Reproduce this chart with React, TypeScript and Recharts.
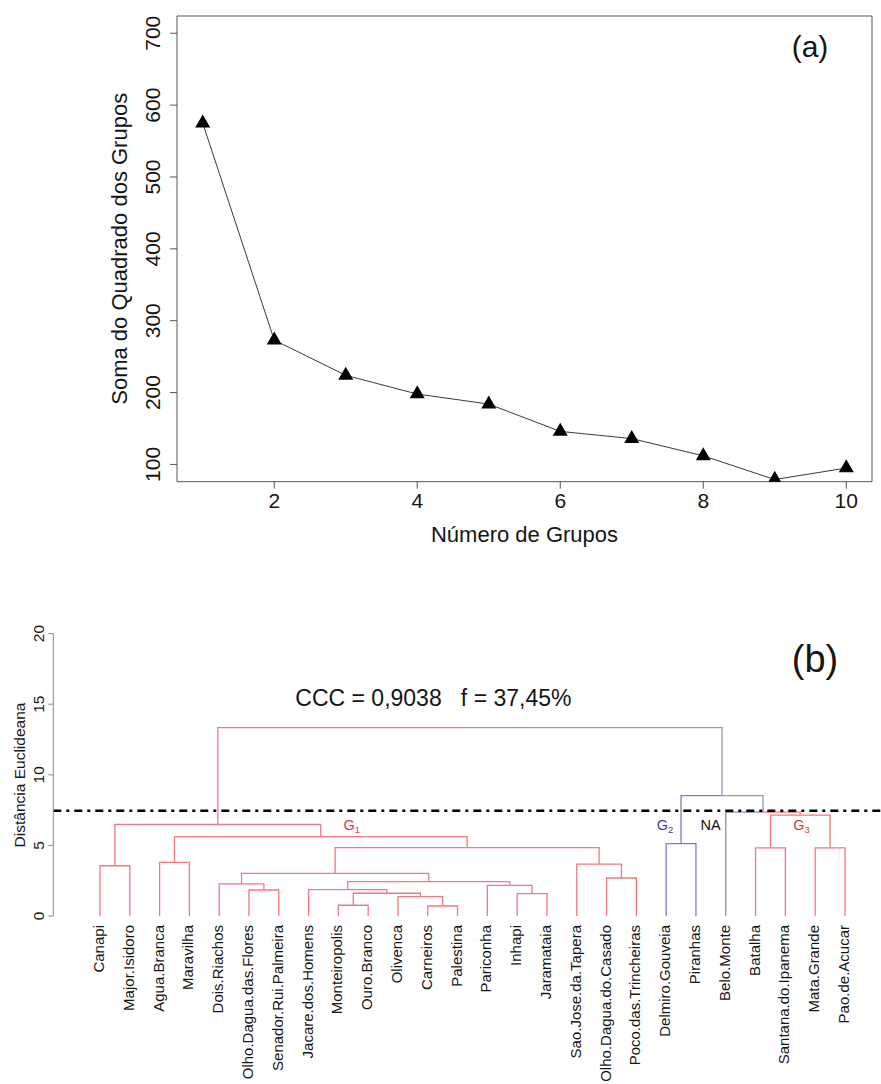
import React from 'react';
import {
  ComposedChart,
  Line,
  XAxis,
  YAxis,
  ReferenceArea,
  ReferenceLine,
  ReferenceDot,
} from 'recharts';

const FONT = '"Liberation Sans", Arial, Helvetica, sans-serif';
const INK = '#151515';

// ---------- (a) elbow plot data ----------
const groupCounts = [1, 2, 3, 4, 5, 6, 7, 8, 9, 10];
const withinSS = [575, 273, 224, 198, 184, 146, 136, 112, 79, 95];
const elbowXTicks = [2, 4, 6, 8, 10];
const elbowYTicks = [100, 200, 300, 400, 500, 600, 700];
const elbowXDomain: [number, number] = [0.64, 10.36];
const elbowYDomain: [number, number] = [76, 724];

// ---------- (b) dendrogram data ----------
const leafNames = [
  'Canapi', 'Major.Isidoro', 'Agua.Branca', 'Maravilha', 'Dois.Riachos',
  'Olho.Dagua.das.Flores', 'Senador.Rui.Palmeira', 'Jacare.dos.Homens',
  'Monteiropolis', 'Ouro.Branco', 'Olivenca', 'Carneiros', 'Palestina',
  'Pariconha', 'Inhapi', 'Jaramataia', 'Sao.Jose.da.Tapera',
  'Olho.Dagua.do.Casado', 'Poco.das.Trincheiras', 'Delmiro.Gouveia',
  'Piranhas', 'Belo.Monte', 'Batalha', 'Santana.do.Ipanema', 'Mata.Grande',
  'Pao.de.Acucar',
];
const leafGroups = [
  'G1', 'G1', 'G1', 'G1', 'G1', 'G1', 'G1', 'G1', 'G1', 'G1', 'G1', 'G1', 'G1',
  'G1', 'G1', 'G1', 'G1', 'G1', 'G1', 'G2', 'G2', 'NA', 'G3', 'G3', 'G3', 'G3',
];
// hclust-style merges: negative = leaf (1-based), positive = earlier merge row (1-based)
const mergeLeft = [-12, -9, -11, -15, 2, -6, -8, -14, -5, 7, -18, 9, -1, -17, -3, -23, -25, 12, -20, 15, 13, 16, -22, 19, 21];
const mergeRight = [-13, -10, 1, -16, 3, -7, 5, 4, 6, 8, -19, 10, -2, 11, -4, -24, -26, 14, -21, 18, 20, 17, 22, 23, 24];
const mergeHeight = [0.71, 0.76, 1.37, 1.58, 1.61, 1.84, 1.87, 2.17, 2.27, 2.44, 2.69, 3.02, 3.56, 3.68, 3.8, 4.82, 4.82, 4.84, 5.12, 5.62, 6.49, 7.15, 7.36, 8.52, 13.34];
const cutHeight = 7.45;
const dendroYTicks = [0, 5, 10, 15, 20];
const groupLabelNames = ['G1', 'G2', 'NA', 'G3'];

// ---------- styles / annotation placement ----------
const groupLineColor: Record<string, string> = {
  G1: '#f07880',
  G2: '#7c7cc6',
  G3: '#f07880',
  NA: '#8e8ea8',
  mixed: '#9696b6',
};
const groupTextColor: Record<string, string> = {
  G1: '#e3353e',
  G2: '#3d3d9c',
  G3: '#e3353e',
  NA: '#111111',
};
const groupLabelPos = [
  { x: 9.45, y: 6.12 },
  { x: 19.96, y: 6.12 },
  { x: 21.49, y: 6.12 },
  { x: 24.54, y: 6.12 },
];

const elbowData = groupCounts.map((k, i) => ({ k, wss: withinSS[i] }));

type NodeInfo = { x: number; h: number; group: string };
type Segment = { points: { x: number; h: number }[]; color: string };

function buildDendrogram(): Segment[] {
  const nodes: NodeInfo[] = [];
  const info = (ref: number): NodeInfo =>
    ref < 0 ? { x: -ref, h: 0, group: leafGroups[-ref - 1] } : nodes[ref - 1];
  const segs: Segment[] = [];
  for (let i = 0; i < mergeHeight.length; i++) {
    const l = info(mergeLeft[i]);
    const r = info(mergeRight[i]);
    const H = mergeHeight[i];
    const node: NodeInfo = {
      x: (l.x + r.x) / 2,
      h: H,
      group: l.group === r.group ? l.group : 'mixed',
    };
    nodes.push(node);
    [l, r].forEach((c) => {
      segs.push({
        points: [
          { x: c.x, h: c.h },
          { x: c.x, h: H },
          { x: node.x, h: H },
        ],
        color: groupLineColor[c.group],
      });
    });
  }
  return segs;
}
const dendroSegments = buildDendrogram();
const leafTicks = leafNames.map((_, i) => i + 1);
const dendroXDomain: [number, number] = [1 - 1.567, leafNames.length + 1.21];

// ---------- tick renderers ----------
const ElbowXTick = (p: any) => (
  <text x={p.x} y={p.y + 18.8} textAnchor="middle" fontSize={21} fontFamily={FONT} fill={INK}>
    {p.payload.value}
  </text>
);
const ElbowYTick = (p: any) => {
  const x = p.x - 9.5;
  return (
    <text x={x} y={p.y} transform={`rotate(-90 ${x} ${p.y})`} textAnchor="middle" fontSize={21} fontFamily={FONT} fill={INK}>
      {p.payload.value}
    </text>
  );
};
const LeafTick = (p: any) => {
  const x = p.x + 4;
  const y = p.y + 9;
  return (
    <text x={x} y={y} transform={`rotate(-90 ${x} ${y})`} textAnchor="end" fontSize={15} fontFamily={FONT} fill={INK}>
      {leafNames[p.payload.value - 1]}
    </text>
  );
};
const DendroYTick = (p: any) => {
  const x = p.x - 4.5;
  return (
    <text x={x} y={p.y} transform={`rotate(-90 ${x} ${p.y})`} textAnchor="middle" fontSize={15.5} fontFamily={FONT} fill={INK}>
      {p.payload.value}
    </text>
  );
};

const Triangle = (p: any) => {
  const { cx, cy } = p;
  if (cx == null || cy == null) return <g key={p.index} />;
  return (
    <polygon
      key={p.index}
      points={`${cx},${cy - 8.7} ${cx + 7.5},${cy + 4.3} ${cx - 7.5},${cy + 4.3}`}
      fill="#000"
    />
  );
};

const groupLabel = (name: string) => (props: any) => {
  const vb = props.viewBox || {};
  const cx = (vb.x ?? 0) + (vb.width ?? 0) / 2;
  const cy = (vb.y ?? 0) + (vb.height ?? 0) / 2;
  const color = groupTextColor[name];
  if (name === 'NA') {
    return (
      <text x={cx} y={cy} textAnchor="middle" fontSize={14.5} fontFamily={FONT} fill={color}>
        NA
      </text>
    );
  }
  return (
    <text x={cx} y={cy} textAnchor="middle" fontSize={14.5} fontFamily={FONT} fill={color}>
      {name.charAt(0)}
      <tspan fontSize={9.5} dy={3}>{name.slice(1)}</tspan>
    </text>
  );
};

export default function App() {
  return (
    <div style={{ position: 'absolute', left: 0, top: 0, width: 881, height: 1084, background: '#fff' }}>
      {/* (a) */}
      <div style={{ position: 'absolute', left: 0, top: 0 }}>
        <ComposedChart
          width={881}
          height={560}
          data={elbowData}
          margin={{ top: 16, right: 9, bottom: 38.3, left: 117 }}
        >
          <XAxis
            dataKey="k"
            type="number"
            domain={elbowXDomain}
            allowDataOverflow
            ticks={elbowXTicks}
            interval={0}
            height={40}
            axisLine={false}
            tickLine={{ stroke: '#555' }}
            tickSize={7}
            tickMargin={0}
            tick={<ElbowXTick />}
          />
          <YAxis
            type="number"
            domain={elbowYDomain}
            allowDataOverflow
            ticks={elbowYTicks}
            interval={0}
            width={60}
            axisLine={false}
            tickLine={{ stroke: '#555' }}
            tickSize={7}
            tickMargin={0}
            tick={<ElbowYTick />}
          />
          <ReferenceArea
            x1={elbowXDomain[0]}
            x2={elbowXDomain[1]}
            y1={elbowYDomain[0]}
            y2={elbowYDomain[1]}
            fill="none"
            fillOpacity={0}
            stroke="#555"
            strokeWidth={1}
            ifOverflow="visible"
          />
          <Line
            dataKey="wss"
            type="linear"
            stroke="#3a3a3a"
            strokeWidth={1}
            dot={(p: any) => <Triangle key={p.index} {...p} />}
            activeDot={false}
            isAnimationActive={false}
          />
        </ComposedChart>
      </div>

      {/* (b) */}
      <div style={{ position: 'absolute', left: 0, top: 560 }}>
        <ComposedChart
          width={881}
          height={524}
          margin={{ top: 73.6, right: 0, bottom: 68, left: 3.3 }}
        >
          <XAxis
            dataKey="x"
            type="number"
            domain={dendroXDomain}
            allowDataOverflow
            ticks={leafTicks}
            interval={0}
            height={100}
            axisLine={false}
            tickLine={false}
            tickSize={0}
            tickMargin={0}
            tick={<LeafTick />}
          />
          <YAxis
            type="number"
            domain={[0, 20]}
            allowDataOverflow
            ticks={dendroYTicks}
            interval={0}
            width={50}
            axisLine={{ stroke: '#888' }}
            tickLine={{ stroke: '#888' }}
            tickSize={5}
            tickMargin={0}
            tick={<DendroYTick />}
          />
          {dendroSegments.map((s, i) => (
            <Line
              key={`seg-${i}`}
              data={s.points}
              dataKey="h"
              type="linear"
              stroke={s.color}
              strokeWidth={1.3}
              dot={false}
              activeDot={false}
              isAnimationActive={false}
              legendType="none"
            />
          ))}
          <ReferenceLine
            y={cutHeight}
            stroke="#000"
            strokeWidth={2.5}
            strokeDasharray="8 5 3 5"
            ifOverflow="visible"
          />
          {groupLabelNames.map((name, i) => (
            <ReferenceDot
              key={name}
              x={groupLabelPos[i].x}
              y={groupLabelPos[i].y}
              r={0}
              fill="none"
              stroke="none"
              ifOverflow="visible"
              label={groupLabel(name)}
            />
          ))}
        </ComposedChart>
      </div>

      {/* titles and annotations */}
      <svg
        width={881}
        height={1084}
        style={{ position: 'absolute', left: 0, top: 0, pointerEvents: 'none' }}
        fontFamily={FONT}
        fill={INK}
      >
        <text x={810} y={56.7} textAnchor="middle" fontSize={30}>(a)</text>
        <text x={524.5} y={542} textAnchor="middle" fontSize={22}>Número de Grupos</text>
        <text x={126.7} y={248.8} transform="rotate(-90 126.7 248.8)" textAnchor="middle" fontSize={22}>
          Soma do Quadrado dos Grupos
        </text>
        <text x={815} y={672} textAnchor="middle" fontSize={38}>(b)</text>
        <text x={433.4} y={705.5} textAnchor="middle" fontSize={23} style={{ whiteSpace: 'pre' }}>
          {'CCC = 0,9038   f = 37,45%'}
        </text>
        <text x={25} y={775} transform="rotate(-90 25 775)" textAnchor="middle" fontSize={15.5}>
          Distância Euclideana
        </text>
      </svg>
    </div>
  );
}
